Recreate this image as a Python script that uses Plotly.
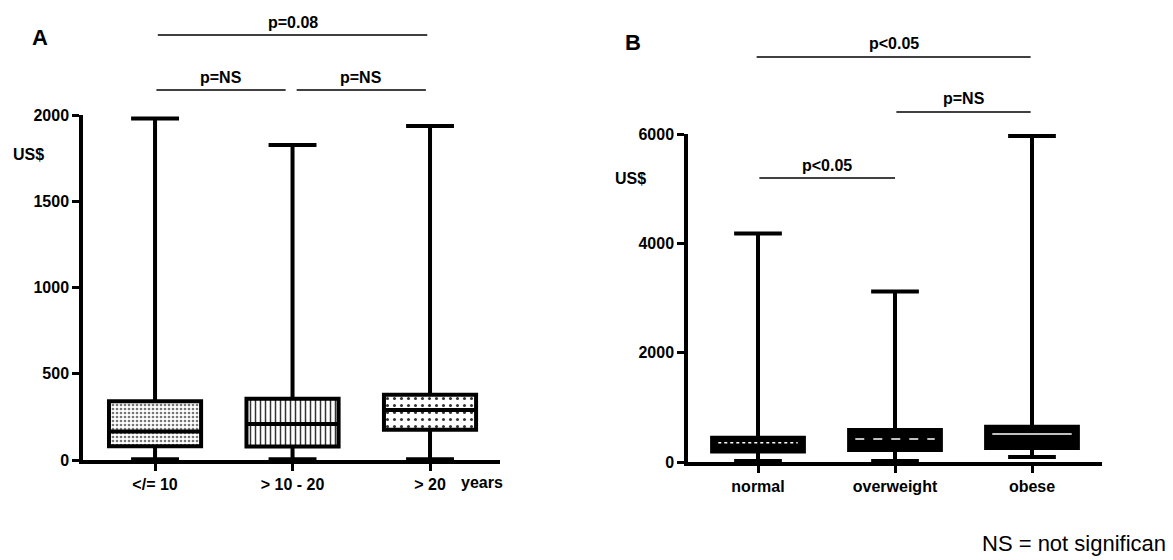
import plotly.graph_objects as go

# ---------------- data ----------------
cats_a = ["</= 10", "> 10 - 20", "> 20"]
a_min = [4, 4, 4]
a_q1 = [80, 78, 175]
a_med = [165, 208, 290]
a_q3 = [340, 355, 378]
a_max = [1980, 1826, 1936]

cats_b = ["normal", "overweight", "obese"]
b_min = [20, 20, 90]
b_q1 = [190, 220, 256]
b_med = [354, 420, 513]
b_q3 = [445, 586, 647]
b_max = [4180, 3120, 5965]

yticks_a = [0, 500, 1000, 1500, 2000]
yticks_b = [0, 2000, 4000, 6000]

# page has an 8px body margin: figure sized so that it fills the 1173x560 window
OFF = 8
W, H = 1173 - OFF, 560 - OFF
FONT = "Liberation Sans, Arial"
BOXW = 0.67

pos = [0, 1, 2]

fig = go.Figure()

patt_a = [
    dict(shape=".", size=4, solidity=0.35, fgcolor="#777777", bgcolor="white"),
    dict(shape="|", size=5, solidity=0.3, fgcolor="#333333", bgcolor="white"),
    dict(shape=".", size=7, solidity=0.15, fgcolor="#333333", bgcolor="white"),
]
for i in range(3):
    fig.add_trace(go.Bar(
        x=[pos[i]], y=[a_q3[i] - a_q1[i]], base=[a_q1[i]], width=BOXW,
        marker=dict(color="white", pattern=patt_a[i], line=dict(width=0)),
        xaxis="x", yaxis="y", showlegend=False, hoverinfo="skip"))

fig.add_trace(go.Box(
    x=pos, q1=a_q1, median=a_med, q3=a_q3, lowerfence=a_min, upperfence=a_max,
    width=BOXW, whiskerwidth=0.52, boxpoints=False,
    line=dict(color="black", width=4), fillcolor="rgba(0,0,0,0)",
    xaxis="x", yaxis="y", showlegend=False))

fig.add_trace(go.Bar(
    x=pos, y=[b_q3[i] - b_q1[i] for i in range(3)], base=b_q1, width=BOXW,
    marker=dict(color="black", line=dict(width=0)),
    xaxis="x2", yaxis="y2", showlegend=False, hoverinfo="skip"))
fig.add_trace(go.Box(
    x=pos, q1=b_q1, median=b_med, q3=b_q3, lowerfence=b_min, upperfence=b_max,
    width=BOXW, whiskerwidth=0.52, boxpoints=False,
    line=dict(color="black", width=4), fillcolor="black",
    xaxis="x2", yaxis="y2", showlegend=False))

dashes = ["dot", "dash", "solid"]
HALF = 0.29
for i in range(3):
    fig.add_trace(go.Scatter(
        x=[pos[i] - HALF, pos[i] + HALF], y=[b_med[i], b_med[i]], mode="lines",
        line=dict(color="white", width=1.5, dash=dashes[i]),
        xaxis="x2", yaxis="y2", showlegend=False, hoverinfo="skip"))

axis_common = dict(showline=True, linecolor="black", linewidth=3.5, ticks="outside",
                   ticklen=7, tickwidth=3, tickcolor="black", showgrid=False,
                   zeroline=False, automargin=False,
                   tickfont=dict(family=FONT, size=16, color="black", weight="bold"))


def px_x(p):
    return (p - OFF) / W


def px_y(p):
    return (H - (p - OFF)) / H


fig.update_layout(
    template="none",
    width=W, height=H, margin=dict(l=0, r=0, t=0, b=0, pad=0),
    plot_bgcolor="white", paper_bgcolor="white",
    barmode="overlay", showlegend=False,
    xaxis=dict(domain=[px_x(83), px_x(500)], range=[-0.524, 2.509],
               tickvals=pos, ticktext=cats_a, anchor="y", **axis_common),
    yaxis=dict(domain=[px_y(460), px_y(115)], range=[0, 2000],
               tickvals=yticks_a, anchor="x", **axis_common),
    xaxis2=dict(domain=[px_x(688), px_x(1102)], range=[-0.511, 2.511],
                tickvals=pos, ticktext=cats_b, anchor="y2", **axis_common),
    yaxis2=dict(domain=[px_y(462), px_y(134)], range=[0, 6000],
                tickvals=yticks_b, anchor="x2", **axis_common),
)

bold = dict(family=FONT, size=16, color="black", weight="bold")
shapes = []
annots = []


def sig(xref, x0, x1, ypx, text):
    shapes.append(dict(type="line", xref=xref, yref="paper", x0=x0, x1=x1,
                       y0=px_y(ypx), y1=px_y(ypx), line=dict(color="black", width=1.3)))
    annots.append(dict(xref=xref, yref="paper", x=(x0 + x1) / 2, y=px_y(ypx - 13),
                       text=text, showarrow=False, xanchor="center", yanchor="middle",
                       font=bold))


sig("x", 0.02, 1.98, 35, "p=0.08")
sig("x", 0.01, 0.95, 90, "p=NS")
sig("x", 1.03, 1.97, 90, "p=NS")
sig("x2", -0.01, 1.99, 57, "p<0.05")
sig("x2", 1.01, 1.99, 112, "p=NS")
sig("x2", 0.01, 1.00, 178, "p<0.05")


def lab(xp, yp, text, font, xanchor="center"):
    annots.append(dict(xref="paper", yref="paper", x=px_x(xp), y=px_y(yp), text=text,
                       showarrow=False, xanchor=xanchor, yanchor="middle", font=font))


big = dict(family=FONT, size=22, color="black", weight="bold")
lab(40, 37, "A", big)
lab(633, 43, "B", big)
lab(28, 155, "US$", bold)
lab(630, 178, "US$", bold)
lab(482, 483, "years", bold)
lab(1168, 543, "NS = not significan", dict(family=FONT, size=22, color="black"),
    xanchor="right")

fig.update_layout(shapes=shapes, annotations=annots)
fig.write_html("out.html")
